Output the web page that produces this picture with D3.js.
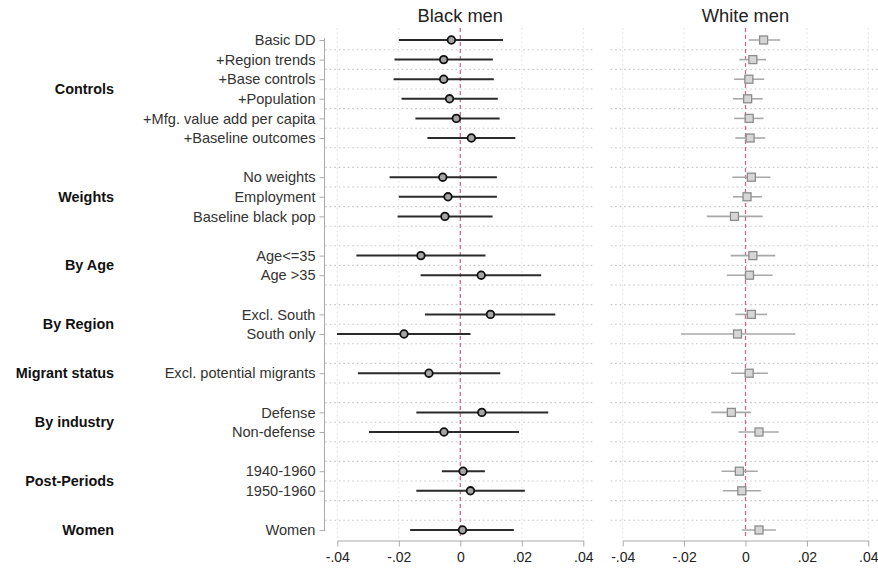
<!DOCTYPE html>
<html><head><meta charset="utf-8">
<script src="https://cdn.jsdelivr.net/npm/d3@7"></script>
<style>body{margin:0;background:#fff}svg{display:block}</style>
</head><body>
<svg id="c" width="878" height="571"></svg>
<script>
// ---- data ----
const groups = ["Controls","Weights","By Age","By Region","Migrant status","By industry","Post-Periods","Women"];
const groupItems = [
  ["Basic DD","+Region trends","+Base controls","+Population","+Mfg. value add per capita","+Baseline outcomes"],
  ["No weights","Employment","Baseline black pop"],
  ["Age<=35","Age >35"],
  ["Excl. South","South only"],
  ["Excl. potential migrants"],
  ["Defense","Non-defense"],
  ["1940-1960","1950-1960"],
  ["Women"]
];
const blackEst = [-0.0029,-0.0054,-0.0054,-0.0035,-0.0013,0.0036, -0.0057,-0.0040,-0.0050, -0.0128,0.0068, 0.0098,-0.0183, -0.0102, 0.0070,-0.0053, 0.0009,0.0033, 0.0007];
const blackLo  = [-0.0200,-0.0214,-0.0217,-0.0191,-0.0146,-0.0107, -0.0230,-0.0200,-0.0204, -0.0338,-0.0129, -0.0115,-0.0401, -0.0333, -0.0143,-0.0297, -0.0060,-0.0143, -0.0163];
const blackHi  = [0.0139,0.0106,0.0109,0.0122,0.0128,0.0179, 0.0119,0.0119,0.0105, 0.0082,0.0263, 0.0309,0.0033, 0.0130, 0.0286,0.0191, 0.0080,0.0210, 0.0174];
const whiteEst = [0.0059,0.0024,0.0011,0.0007,0.0012,0.0015, 0.0019,0.0005,-0.0036, 0.0024,0.0013, 0.0019,-0.0026, 0.0012, -0.0046,0.0044, -0.0020,-0.0012, 0.0044];
const whiteLo  = [0.0010,-0.0020,-0.0037,-0.0041,-0.0037,-0.0033, -0.0043,-0.0041,-0.0126, -0.0048,-0.0061, -0.0033,-0.0210, -0.0047, -0.0111,-0.0023, -0.0078,-0.0074, -0.0012];
const whiteHi  = [0.0113,0.0067,0.0061,0.0056,0.0059,0.0064, 0.0081,0.0054,0.0056, 0.0097,0.0088, 0.0070,0.0162, 0.0073, 0.0018,0.0108, 0.0040,0.0050, 0.0099];
const xTicks = [-0.04,-0.02,0,0.02,0.04];
const xTickLabels = ["-.04","-.02","0",".02",".04"];
const panelTitles = ["Black men","White men"];

// ---- build rows ----
const rows = []; const groupPos = [];
let idx = 0;
groupItems.forEach((items,g)=>{
  const start = idx;
  items.forEach(lab=>{ rows.push({label:lab, pos:idx}); idx++; });
  groupPos.push({name:groups[g], pos:(start+idx-1)/2});
  idx++; // gap
});
const maxPos = idx-2;
rows.forEach((r,i)=>{ r.b=[blackEst[i],blackLo[i],blackHi[i]]; r.w=[whiteEst[i],whiteLo[i],whiteHi[i]]; });

const svg = d3.select("#c");
const font = "'Liberation Sans', Arial, sans-serif";
const y = d3.scaleLinear().domain([0,maxPos]).range([40,530]);
const yTop = 28, yBot = 538;

const panels = [
  {x:d3.scaleLinear().domain([-0.04,0.04]).range([337.3,583.3]), key:"b"},
  {x:d3.scaleLinear().domain([-0.04,0.04]).range([622.7,868.3]), key:"w"}
];

panels.forEach((p,pi)=>{
  const g = svg.append("g");
  const [x0,x1] = p.x.range();
  // horizontal dotted grid (between rows)
  const gridY = d3.range(0,maxPos).map(i=>y(i+0.5));
  g.selectAll("line.hg").data(gridY).join("line")
    .attr("x1",x0-12).attr("x2",x1+10).attr("y1",d=>d).attr("y2",d=>d)
    .attr("stroke","#c4c4c4").attr("stroke-width",1.1).attr("stroke-dasharray","1.5,3");
  // vertical dotted grid
  g.selectAll("line.vg").data(xTicks.filter(t=>t!==0)).join("line")
    .attr("x1",d=>p.x(d)).attr("x2",d=>p.x(d)).attr("y1",yTop).attr("y2",yBot)
    .attr("stroke","#dddddd").attr("stroke-width",1).attr("stroke-dasharray","1.5,3");
  // zero line
  g.append("line").attr("x1",p.x(0)).attr("x2",p.x(0)).attr("y1",yTop).attr("y2",yBot)
    .attr("stroke","#cf6a86").attr("stroke-width",1.3).attr("stroke-dasharray","4,3");
  // x axis
  const ax = d3.axisBottom(p.x).tickValues(xTicks).tickFormat((d,i)=>xTickLabels[i]).tickSize(6).tickSizeOuter(0);
  const axg = g.append("g").attr("transform","translate(0,540.5)").call(ax);
  axg.select(".domain").attr("stroke","#aaa");
  axg.selectAll(".tick line").attr("stroke","#aaa");
  axg.selectAll(".tick text").attr("fill","#222").attr("font-family",font).attr("font-size",14).attr("dy","0.9em");
  // title
  g.append("text").attr("x",(x0+x1)/2).attr("y",22).attr("text-anchor","middle")
    .attr("font-family",font).attr("font-size",18.3).attr("fill","#222").text(panelTitles[pi]);
  // CI lines
  const black = p.key==="b";
  g.selectAll("line.ci").data(rows).join("line")
    .attr("x1",d=>p.x(d[p.key][1])).attr("x2",d=>p.x(d[p.key][2]))
    .attr("y1",d=>y(d.pos)).attr("y2",d=>y(d.pos))
    .attr("stroke",black?"#2a2a2a":"#a8a8a8").attr("stroke-width",black?2:1.6);
  if(black){
    g.selectAll("circle.pt").data(rows).join("circle")
      .attr("cx",d=>p.x(d.b[0])).attr("cy",d=>y(d.pos)).attr("r",3.8)
      .attr("fill","#a5a5a5").attr("stroke","#111").attr("stroke-width",1.8);
  } else {
    g.selectAll("rect.pt").data(rows).join("rect")
      .attr("x",d=>p.x(d.w[0])-4).attr("y",d=>y(d.pos)-4).attr("width",8).attr("height",8)
      .attr("fill","#d6d6d6").attr("stroke","#8c8c8c").attr("stroke-width",1.3);
  }
});

// y axis
const yax = d3.axisLeft(y).tickValues(rows.map(r=>r.pos)).tickFormat((d)=>rows.find(r=>r.pos===d).label).tickSize(5).tickSizeOuter(0);
const yg = svg.append("g").attr("transform","translate(324.5,0)").call(yax);
yg.select(".domain").attr("stroke","#aaa").attr("d","M0,"+(y(0)-2)+"V"+(y(maxPos)+1));
yg.selectAll(".tick line").attr("stroke","#aaa");
yg.selectAll(".tick text").attr("fill","#333").attr("font-family",font).attr("font-size",14.6).attr("x",-9);

// group labels
svg.selectAll("text.grp").data(groupPos).join("text")
  .attr("x",114).attr("y",d=>y(d.pos)).attr("dy","0.35em").attr("text-anchor","end")
  .attr("font-family",font).attr("font-size",14.4).attr("font-weight","bold").attr("fill","#111")
  .text(d=>d.name);
</script>
</body></html>
